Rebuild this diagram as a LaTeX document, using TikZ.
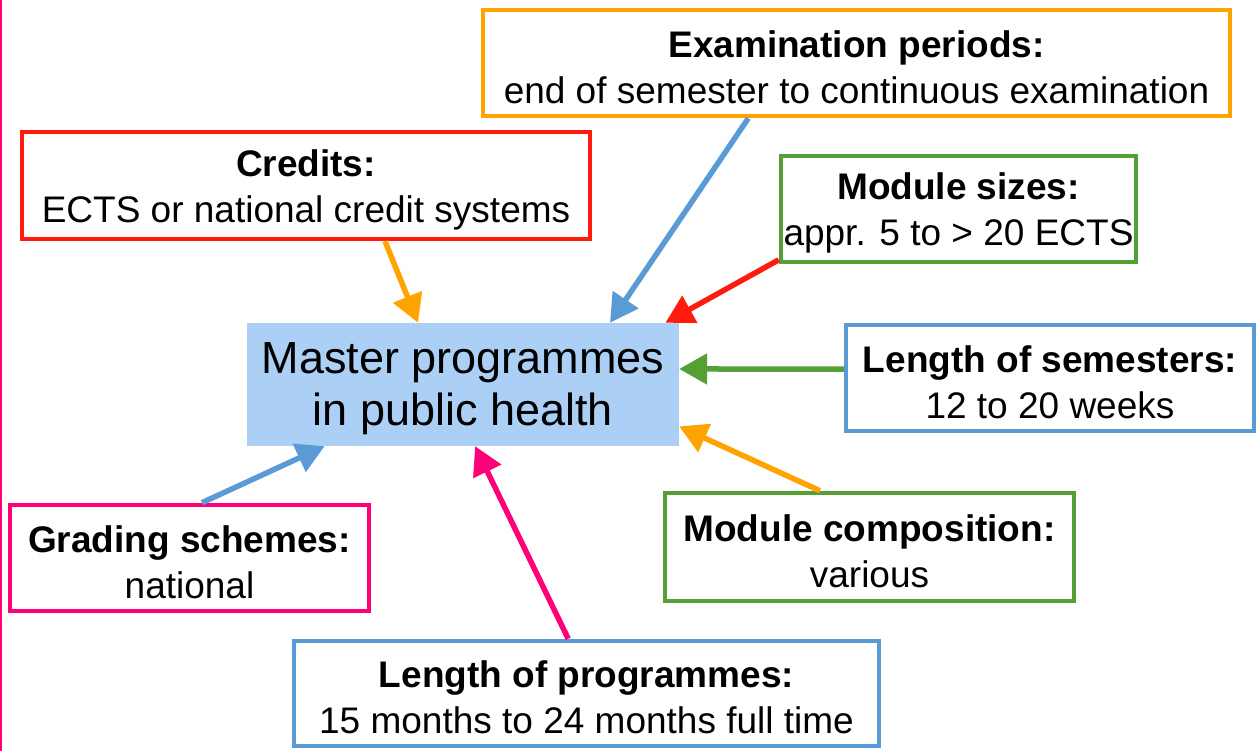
\documentclass[tikz,border=0pt]{standalone}
\usepackage{fontspec}
\setmainfont{Liberation Sans}
\usetikzlibrary{arrows.meta,calc}
\definecolor{cOrange}{RGB}{255,163,0}
\definecolor{cRed}{RGB}{255,28,15}
\definecolor{cGreen}{RGB}{84,160,55}
\definecolor{cBlue}{RGB}{91,155,213}
\definecolor{cPink}{RGB}{255,0,120}
\definecolor{cFill}{RGB}{171,207,245}
\begin{document}
\begin{tikzpicture}[x=1pt,y=-1pt,
  infobox/.style={draw=#1,line width=4.5pt,fill=white,inner sep=0pt,align=center,
    font=\fontsize{37}{46}\selectfont},
  boxtext/.style={label={[align=center,font=\fontsize{37}{46}\selectfont,yshift=-4pt]center:#1}},
  arr/.style={draw=#1,line width=5.5pt,-{Triangle[length=28pt,width=30pt]}}]
\useasboundingbox (0,0) rectangle (1259,751);
\draw[cPink,line width=2pt] (1,0) -- (1,751);
\node[fill=cFill,minimum width=432pt,minimum height=123pt,inner sep=0pt,
  label={[align=center,font=\fontsize{45}{52}\selectfont,yshift=-4pt]center:{Master programmes\\in public health}}] (master) at (463,384.5) {};
\node[infobox=cOrange,minimum width=747pt,minimum height=106pt,
  boxtext={\textbf{Examination periods:}\\end of semester to continuous examination}] (exam) at (856.5,63) {};
\node[infobox=cRed,minimum width=568pt,minimum height=107pt,
  boxtext={\textbf{Credits:}\\ECTS or national credit systems}] (credits) at (306,185.5) {};
\node[infobox=cGreen,minimum width=355pt,minimum height=106pt,
  boxtext={\textbf{Module sizes:}\\appr. 5 to > 20 ECTS}] (sizes) at (958.5,209) {};
\node[infobox=cBlue,minimum width=408pt,minimum height=106pt,
  boxtext={\textbf{Length of semesters:}\\12 to 20 weeks}] (semesters) at (1050,378) {};
\node[infobox=cGreen,minimum width=409pt,minimum height=108pt,
  boxtext={\textbf{Module composition:}\\various}] (composition) at (869.5,547) {};
\node[infobox=cPink,minimum width=359pt,minimum height=106pt,
  boxtext={\textbf{Grading schemes:}\\national}] (grading) at (189.5,558) {};
\node[infobox=cBlue,minimum width=585pt,minimum height=105pt,
  boxtext={\textbf{Length of programmes:}\\15 months to 24 months full time}] (programmes) at (586.5,693.5) {};
% arrows
\draw[arr=cOrange] ($(credits.south west)!0.638!(credits.south east)$) -- ($(master.north west)!0.396!(master.north east)$);
\draw[arr=cBlue] ($(exam.south west)!0.356!(exam.south east)$) -- ($(master.north west)!0.84!(master.north east)$);
\draw[arr=cRed] ($(sizes.north west)!0.96!(sizes.south west)$) -- ($(master.north west)!0.968!(master.north east)$);
\draw[arr=cGreen] ($(semesters.north west)!0.42!(semesters.south west)$) -- ($(master.north east)!0.374!(master.south east)$);
\draw[arr=cOrange] ($(composition.north west)!0.38!(composition.north east)$) -- ($(master.north east)!0.84!(master.south east)$);
\draw[arr=cBlue] ($(grading.north west)!0.534!(grading.north east)$) -- ($(master.south west)!0.18!(master.south east)$);
\draw[arr=cPink] ($(programmes.north west)!0.469!(programmes.north east)$) -- ($(master.south west)!0.528!(master.south east)$);
\end{tikzpicture}
\end{document}
